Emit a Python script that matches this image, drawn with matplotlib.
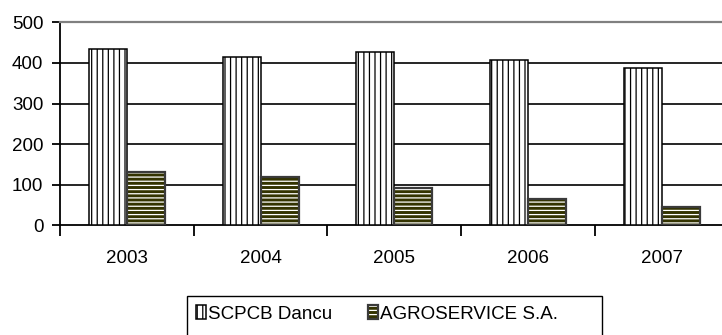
import matplotlib
matplotlib.use("Agg")
import matplotlib.pyplot as plt
from matplotlib.patches import Rectangle
import numpy as np

years = ["2003", "2004", "2005", "2006", "2007"]
scpcb = [434, 414, 427, 407, 387]
agro = [132, 119, 93, 66, 46]

plt.rcParams['font.family'] = ['Liberation Sans', 'DejaVu Sans']
plt.rcParams['hatch.linewidth'] = 0.9

W, H = 722, 335
fig = plt.figure(figsize=(W / 100, H / 100), dpi=100)
ax = fig.add_axes([60 / W, (H - 225.3) / H, (728.5 - 60) / W, 203 / H])

x = np.arange(len(years))
bw = 0.284
b1 = ax.bar(x - bw / 2, scpcb, bw, color='white', edgecolor='black',
            hatch='|||', linewidth=1.1, zorder=3)
b2f = ax.bar(x + bw / 2, agro, bw, color='#333300', edgecolor='white',
             hatch='----', linewidth=0, zorder=3)
b2e = ax.bar(x + bw / 2, agro, bw, fill=False, edgecolor='#3a3a3a',
             linewidth=1.6, zorder=4)

ax.set_xlim(-0.5, len(years) - 0.5)
ax.set_ylim(0, 500)
ax.set_yticks(range(0, 501, 100))
ax.set_xticks(x)
ax.set_xticklabels(years)
ax.set_xticks(np.arange(-0.5, len(years)), minor=True)
ax.tick_params(axis='x', which='major', length=0, pad=18, labelsize=13.5)
ax.tick_params(axis='x', which='minor', length=8, width=1.3, direction='out')
ax.tick_params(axis='y', length=6, width=1.3, direction='out', pad=6, labelsize=13.5)

for v in range(100, 500, 100):
    ax.axhline(v, color='black', linewidth=1.2, zorder=1)

ax.spines['top'].set_color('#808080')
ax.spines['top'].set_linewidth(1.6)
ax.spines['left'].set_linewidth(1.3)
ax.spines['bottom'].set_linewidth(1.3)
ax.spines['right'].set_visible(False)

# legend
fig.legend([b1, (b2f, b2e)], ["SCPCB Dancu", "AGROSERVICE S.A."],
           loc='center left', bbox_to_anchor=(196 / W, (H - 314) / H),
           ncol=2, frameon=False, borderpad=0, borderaxespad=0,
           handlelength=0.55, handleheight=0.7, handletextpad=0.1,
           columnspacing=1.9, fontsize=13.5)
fig.patches.append(Rectangle((187 / W, (H - 345) / H), (602 - 187) / W, 49.3 / H,
                             transform=fig.transFigure, fill=False,
                             edgecolor='black', linewidth=1.0))

fig.savefig("out.png", dpi=100)
